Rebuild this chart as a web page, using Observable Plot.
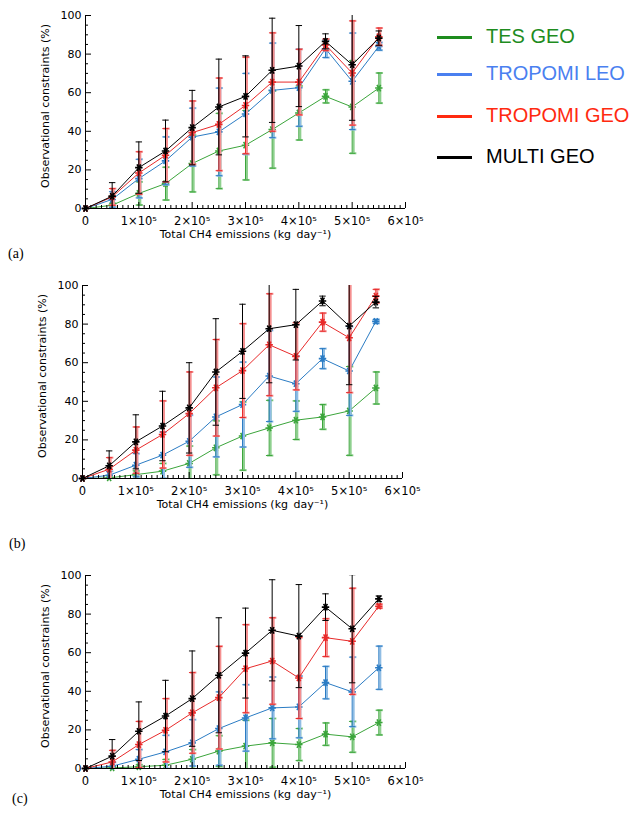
<!DOCTYPE html>
<html><head><meta charset="utf-8">
<script src="https://cdn.jsdelivr.net/npm/d3@7"></script>
<script src="https://cdn.jsdelivr.net/npm/@observablehq/plot@0.6"></script>
<style>
body{margin:0;background:#fff;width:635px;height:820px;position:relative;overflow:hidden;}
.panel{position:absolute;}
.plab{position:absolute;font-family:"Liberation Serif",serif;font-size:14px;color:#000;}
.leg{position:absolute;left:437px;font-family:"Liberation Sans",sans-serif;font-size:20px;}
.leg span.sw{position:absolute;left:0;width:35px;height:3px;}
.leg span.tx{position:absolute;left:49px;white-space:nowrap;line-height:20px;top:-11px;}
</style></head><body>
<script>
const emissions = [0,5e4,1e5,1.5e5,2e5,2.5e5,3e5,3.5e5,4e5,4.5e5,5e5,5.5e5];
const seriesNames = ["TES GEO","TROPOMI LEO","TROPOMI GEO","MULTI GEO"];
const lineColors = ["#3ba53b","#2b7cc4","#e82a2a","#000000"];
const barColors = ["#8fd08f","#90bde4","#f59090",null];
const legendColors = ["#1e8c1e","#4a80f0","#ff2a10","#000000"];
const xTicks = [0,1e5,2e5,3e5,4e5,5e5,6e5];
const xTickLabels = ["0","1×10⁵","2×10⁵","3×10⁵","4×10⁵","5×10⁵","6×10⁵"];
const yTicks = [0,20,40,60,80,100];

// Panel (a)
const aTes = [0,1.7,7.8,12.9,23.3,29.8,32.8,40.9,49.5,58.1,52.6,62.4];
const aTesErr = [0,1,6,8.5,14.7,19.5,18,20,14,3.4,24,7.8];
const aLeo = [0,4.7,15.5,24.7,37,39.7,49,61.2,62.6,82.8,65.9,84];
const aLeoErr = [0,4,10,12.4,15,22.7,21,24.5,20,4.6,25,2];
const aTgeo = [0,6,18.4,27.6,39.3,43.6,53.4,65.5,65.5,84.8,70.2,89];
const aTgeoErr = [0,4.3,11,13.8,16.4,24,25,25.5,17,3,27,4.5];
const aMulti = [0,6.4,21.2,29.8,41.9,52.6,58.1,71.6,73.8,86.6,74.5,88.3];
const aMultiErr = [0,7,13.3,16,19.3,24.8,21,27,21,3.9,28.8,3.7];
// Panel (b)
const bTes = [0,0.3,2,3.8,7.8,15.9,22,26.2,30.2,31.9,35,46.9];
const bTesErr = [0,0.5,2,4,9,14,17.7,14.3,10,6.4,23,8.3];
const bLeo = [0,1.7,6.9,12.1,19.3,31.9,38.3,53.1,49.1,62.1,55.7,81.4];
const bLeoErr = [0,2,6,12,13.5,20.7,22,23.6,14.3,5.2,23,1];
const bTgeo = [0,4.8,14.7,22.8,33.6,47,55.9,69.3,63.3,81,72.9,94.5];
const bTgeoErr = [0,6,12,17.4,21.6,25,24.3,26.4,17.4,4.7,28.4,3.5];
const bMulti = [0,6.6,19,27.2,36.6,55.2,65.9,77.6,79.7,92,79,91.4];
const bMultiErr = [0,7.7,14,18,23.4,27.6,24.4,28,18.3,2.5,30.4,3];
// Panel (c)
const cTes = [0,0.3,0.9,1.7,4.8,9,11.6,13.3,12.4,17.8,16.4,23.8];
const cTesErr = [0,0.5,1,3,5,8,13.4,12.6,8.3,5.8,8,6.4];
const cLeo = [0,1.2,4.8,8.6,13.3,20.7,26.2,31.4,31.9,44.5,39.7,52.2];
const cLeoErr = [0,2,5,8.6,12,19,17.2,16,16,8.4,18,11.2];
const cTgeo = [0,3.4,12.4,19.8,28.8,36.7,51.7,55.7,46.9,67.8,65.9,84.1];
const cTgeoErr = [0,6,12,16.4,20.9,26.6,22.8,22.4,21,9.8,27.5,1];
const cMulti = [0,6.4,19.3,27.2,36.2,48.3,59.8,71.6,68.6,83.6,72.4,87.9];
const cMultiErr = [0,8.6,15.2,18.5,24.7,29.8,23.3,26.2,26.7,6.9,28,1.5];

const hline = {draw(ctx, size){const r=Math.sqrt(size/Math.PI); ctx.moveTo(-r,0); ctx.lineTo(r,0);}};

function makePanel(vals, errs) {
  const marks = [];
  vals.forEach((v, i) => {
    const rows = emissions.map((x, j) => ({x, y: v[j], e: errs[i][j]}));
    const eb = rows.filter(d => d.e > 0);
    const caps = eb.flatMap(d => [{x:d.x, y:d.y+d.e}, {x:d.x, y:d.y-d.e}]);
    if (barColors[i]) marks.push(
      Plot.ruleX(eb, {x:"x", y1:d=>d.y-d.e, y2:d=>d.y+d.e, stroke:barColors[i], strokeWidth:2, dx:1.5, clip:true}),
      Plot.dot(caps, {x:"x", y:"y", symbol:hline, r:3.2, stroke:barColors[i], strokeWidth:2, dx:1, clip:true})
    );
    marks.push(
      Plot.ruleX(eb, {x:"x", y1:d=>d.y-d.e, y2:d=>d.y+d.e, stroke:lineColors[i], strokeWidth:1, clip:true}),
      Plot.dot(caps, {x:"x", y:"y", symbol:hline, r:3.2, stroke:lineColors[i], strokeWidth:1, clip:true}),
      Plot.line(rows, {x:"x", y:"y", stroke:lineColors[i], strokeWidth:1}),
      Plot.dot(rows, {x:"x", y:"y", symbol:"asterisk", rotate:90, r:3.5, stroke:lineColors[i], strokeWidth:1.6})
    );
  });
  return Plot.plot({
    width: 430, height: 255,
    marginLeft: 85, marginRight: 25, marginTop: 15, marginBottom: 47,
    x: {domain:[0,6e5], axis:null},
    y: {domain:[0,100], axis:null},
    style: {fontFamily:"DejaVu Sans, sans-serif", fontSize:"11px", background:"transparent", color:"#000", overflow:"visible"},
    marks: [
      ...marks,
      Plot.ruleX([0], {stroke:"#000", strokeWidth:1}),
      Plot.ruleY([0], {stroke:"#000", strokeWidth:1}),
      Plot.axisY({ticks: yTicks, tickSize: 0, tickPadding: 4, tickFormat: d => String(d), fontSize: 11, label: null}),
      Plot.axisY({ticks: yTicks, tickSize: -6, tickFormat: () => "", label: null}),
      Plot.axisY({ticks: d3.range(0,101,5).filter(t => t % 20), tickSize: -3, tickFormat: () => "", label: null}),
      Plot.axisX({ticks: xTicks, tickSize: 0, tickPadding: 8, tickFormat: d => xTickLabels[xTicks.indexOf(d)], fontSize: 11.5, label: null}),
      Plot.axisX({ticks: xTicks, tickSize: -6, tickFormat: () => "", label: null}),
      Plot.axisX({ticks: d3.range(0,6e5+1,1e4).filter(t => t % 1e5), tickSize: -3, tickFormat: () => "", label: null}),
      Plot.text(["Total CH4 emissions (kg\u2002day⁻¹)"], {frameAnchor:"bottom", dy:29, fontSize:11}),
      Plot.text(["Observational constraints (%)"], {frameAnchor:"left", textAnchor:"middle", rotate:-90, dx:-40, dy:-6, fontSize:11})
    ]
  });
}

const panels = [
  {vals:[aTes,aLeo,aTgeo,aMulti], errs:[aTesErr,aLeoErr,aTgeoErr,aMultiErr], top:0, left:0, label:"(a)", lx:8, ly:246},
  {vals:[bTes,bLeo,bTgeo,bMulti], errs:[bTesErr,bLeoErr,bTgeoErr,bMultiErr], top:270, left:-3, label:"(b)", lx:9, ly:536},
  {vals:[cTes,cLeo,cTgeo,cMulti], errs:[cTesErr,cLeoErr,cTgeoErr,cMultiErr], top:560, left:0, label:"(c)", lx:12, ly:791}
];
panels.forEach(p => {
  const div = document.createElement("div");
  div.className = "panel";
  div.style.top = p.top + "px"; div.style.left = p.left + "px";
  div.appendChild(makePanel(p.vals, p.errs));
  document.body.appendChild(div);
  const lab = document.createElement("div");
  lab.className = "plab"; lab.textContent = p.label;
  lab.style.left = p.lx + "px"; lab.style.top = p.ly + "px";
  document.body.appendChild(lab);
});

const legendY = [37, 74, 116, 157];
seriesNames.forEach((name, i) => {
  const g = document.createElement("div");
  g.className = "leg"; g.style.top = legendY[i] + "px";
  const sw = document.createElement("span"); sw.className = "sw"; sw.style.background = legendColors[i]; sw.style.top = "-1px";
  const tx = document.createElement("span"); tx.className = "tx"; tx.style.color = legendColors[i]; tx.textContent = name;
  g.appendChild(sw); g.appendChild(tx);
  document.body.appendChild(g);
});
</script>
</body></html>
